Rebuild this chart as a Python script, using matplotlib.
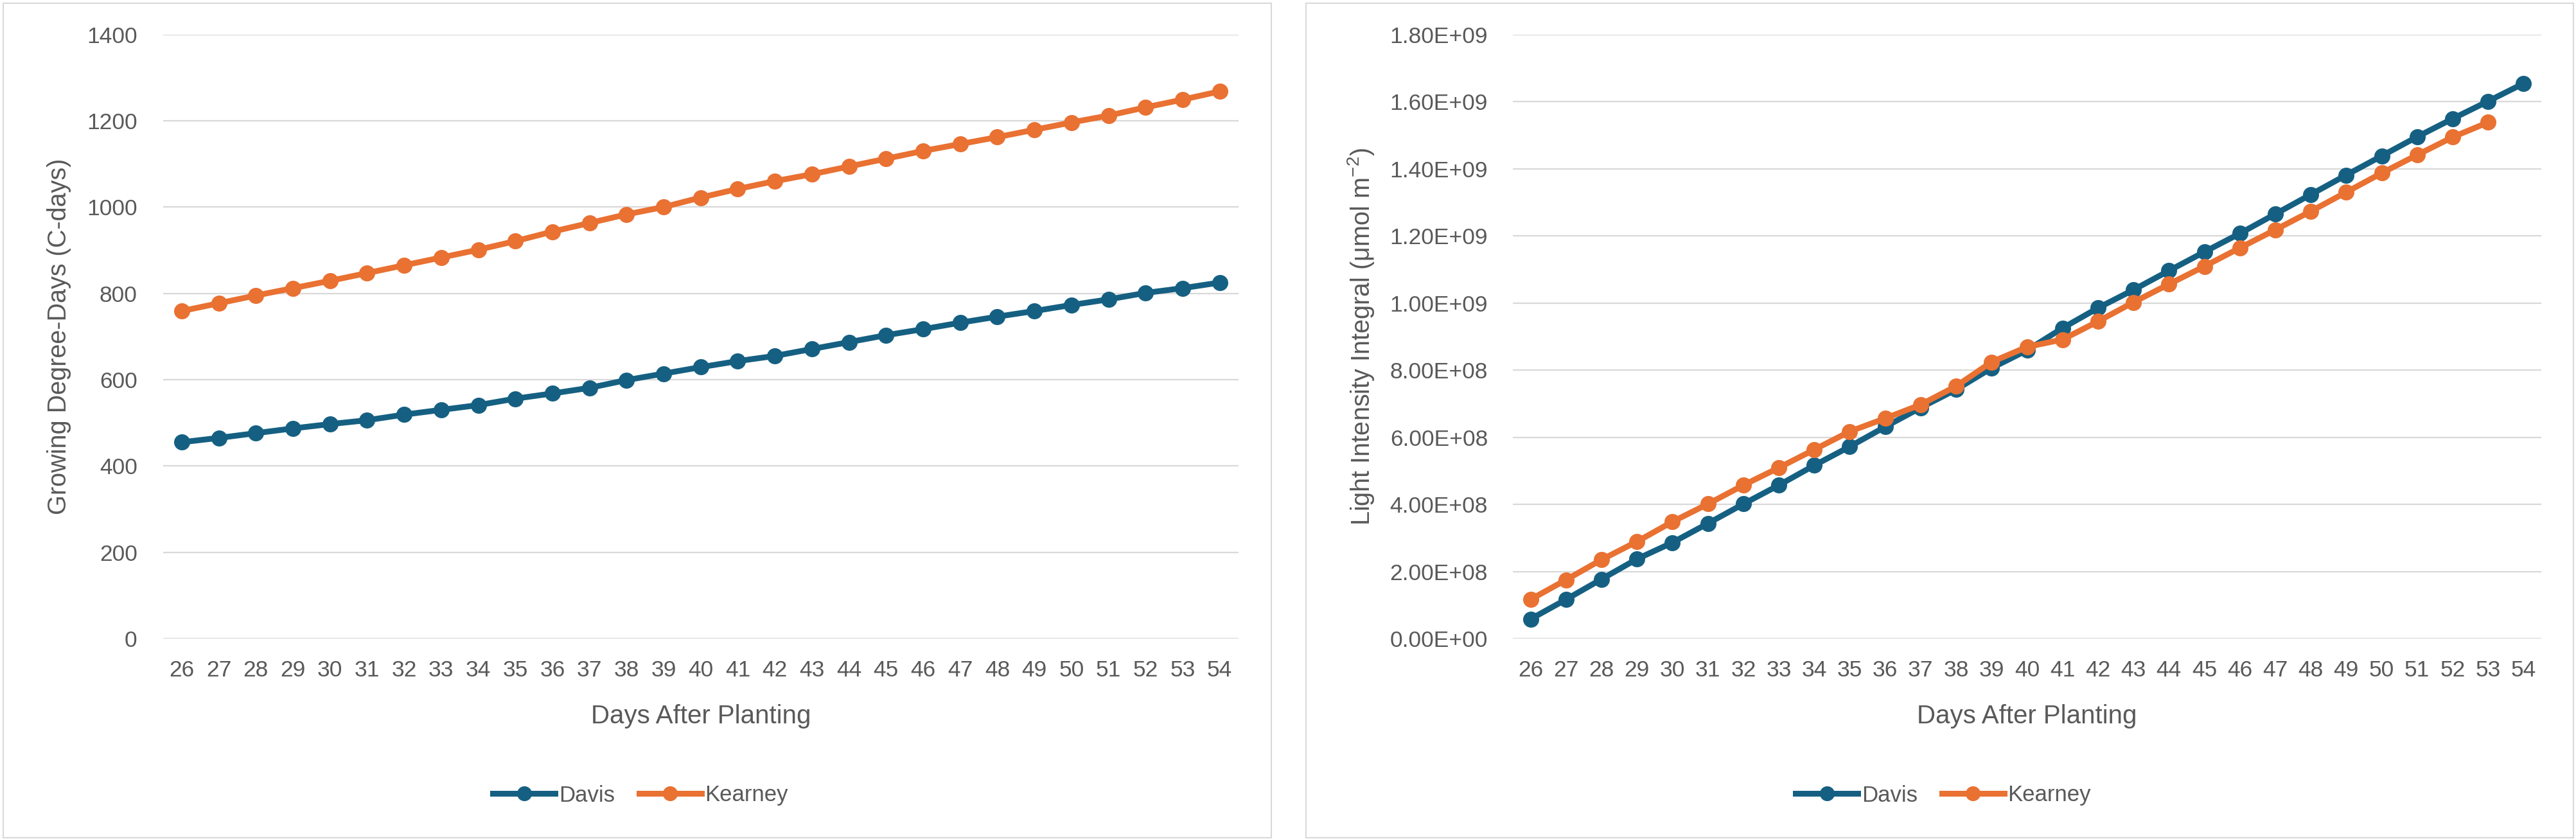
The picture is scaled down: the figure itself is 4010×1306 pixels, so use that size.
import numpy as np
import matplotlib
matplotlib.use("Agg")
import matplotlib.pyplot as plt
from matplotlib.patches import Rectangle
from matplotlib.ticker import FuncFormatter, MultipleLocator

plt.rcParams['font.family'] = ['Liberation Sans', 'DejaVu Sans']
plt.rcParams['mathtext.fontset'] = 'custom'
plt.rcParams['mathtext.rm'] = 'Liberation Sans'
plt.rcParams['mathtext.it'] = 'Liberation Sans'

# days after planting (categories)
days = [26, 27, 28, 29, 30, 31, 32, 33, 34, 35, 36, 37, 38, 39, 40,
        41, 42, 43, 44, 45, 46, 47, 48, 49, 50, 51, 52, 53, 54]

# growing degree days (C-days)
gdd_davis = [455, 465, 476, 487, 497, 506, 519, 530, 541, 556, 568, 581, 599, 614, 629,
             643, 655, 671, 687, 703, 717, 732, 746, 759, 773, 786, 801, 812, 825]
gdd_kearney = [759, 777, 795, 812, 829, 847, 865, 883, 901, 921, 943, 963, 983, 1000, 1022,
               1042, 1060, 1076, 1094, 1112, 1130, 1146, 1162, 1179, 1196, 1212, 1231, 1249, 1268]

# light intensity integral, in units of 1e8 umol m-2
li_davis = [0.58, 1.165, 1.77, 2.37, 2.86, 3.43, 4.01, 4.57, 5.16, 5.72, 6.31, 6.88, 7.42, 8.06, 8.59,
            9.25, 9.85, 10.39, 10.96, 11.52, 12.07, 12.65, 13.23, 13.81, 14.38, 14.95, 15.49, 16.01, 16.54]
li_kearney = [1.165, 1.75, 2.35, 2.89, 3.48, 4.01, 4.57, 5.09, 5.63, 6.17, 6.56, 6.97, 7.52, 8.24, 8.69,
              8.91, 9.45, 10.02, 10.56, 11.09, 11.64, 12.18, 12.73, 13.30, 13.87, 14.41, 14.94, 15.38, np.nan]

davis_col = '#156082'
kearney_col = '#E97132'
txt_col = '#595959'
grid_col = '#D9D9D9'

W, H = 4010, 1306
fig = plt.figure(figsize=(W / 100, H / 100), dpi=100)

# chart area borders
for x0, x1 in [(5, 1979), (2033, 4006)]:
    fig.patches.append(Rectangle((x0 / W, 2 / H), (x1 - x0) / W, 1299 / H,
                                 transform=fig.transFigure, fill=False,
                                 edgecolor=grid_col, lw=1.5))

ax1 = fig.add_axes([254 / W, 1 - 994 / H, (1927.5 - 254) / W, (994 - 53.6) / H])
ax2 = fig.add_axes([2355 / W, 1 - 994 / H, (3956 - 2355) / W, (994 - 53.6) / H])

x = np.arange(len(days))


def style_ax(ax, ypad):
    for s in ax.spines.values():
        s.set_visible(False)
    ax.set_xlim(-0.5, len(days) - 0.5)
    ax.set_xticks(x)
    ax.set_xticklabels([str(d) for d in days])
    ax.tick_params(axis='x', length=0, pad=24, labelsize=25.5, labelcolor=txt_col)
    ax.tick_params(axis='y', length=0, pad=ypad, labelsize=25.5, labelcolor=txt_col)
    ax.grid(axis='y', color=grid_col, lw=1.6)
    ax.set_axisbelow(True)
    ax.set_xlabel('Days After Planting', fontsize=29, color=txt_col, va='baseline')
    ax.xaxis.set_label_coords(0.5, -0.1404)


def plot_series(ax, yd, yk):
    ax.plot(x, yd, '-o', color=davis_col, lw=6.5, ms=17, label='Davis', zorder=3)
    ax.plot(x, yk, '-o', color=kearney_col, lw=6.5, ms=17, label='Kearney', zorder=4)


# left chart
plot_series(ax1, gdd_davis, gdd_kearney)
style_ax(ax1, 29)
ax1.set_ylim(0, 1400)
ax1.yaxis.set_major_locator(MultipleLocator(200))
ax1.set_ylabel('Growing Degree-Days (C-days)', fontsize=28.5, color=txt_col, va='center')
ax1.yaxis.set_label_coords(-0.0968, 0.5)

# right chart
plot_series(ax2, np.array(li_davis) * 1e8, np.array(li_kearney) * 1e8)
style_ax(ax2, 28)
ax2.set_ylim(0, 1.8e9)
ax2.yaxis.set_major_locator(MultipleLocator(2e8))
ax2.yaxis.set_major_formatter(FuncFormatter(lambda v, p: f"{v:.2E}"))
ax2.set_ylabel(r'Light Intensity Integral (μmol m$^{-2}$)', fontsize=28.5, color=txt_col, va='center')
ax2.yaxis.set_label_coords(-0.148, 0.5)

for ax, cx in [(ax1, 997 / W), (ax2, 3025 / W)]:
    leg = ax.legend(loc='center', bbox_to_anchor=(cx, 1 - 1238 / H),
                    bbox_transform=fig.transFigure, ncol=2, frameon=False,
                    fontsize=25, handlelength=2.8, handletextpad=0.15,
                    columnspacing=1.1, markerscale=0.92)
    for t in leg.get_texts():
        t.set_color(txt_col)

fig.savefig('out.png', dpi=100, facecolor='white')
